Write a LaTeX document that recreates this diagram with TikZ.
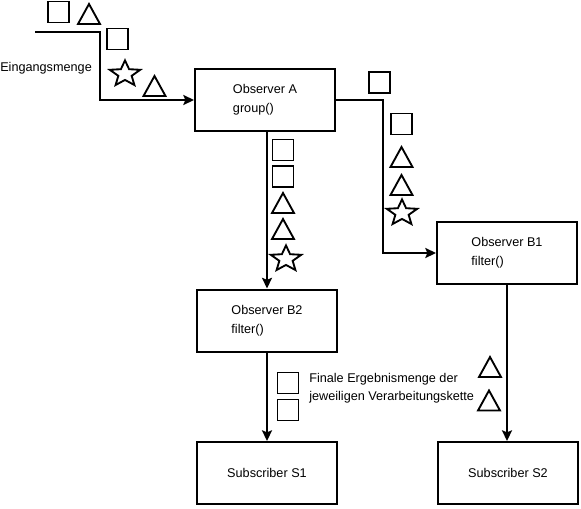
\documentclass[tikz,border=0pt]{standalone}
\usepackage{fontspec}
\setmainfont{Liberation Sans}
\usetikzlibrary{arrows.meta}
\begin{document}
\begin{tikzpicture}[x=0.75pt,y=-0.75pt,
  box/.style={draw,line width=1.5pt,minimum width=105pt,minimum height=46.5pt,align=left,font=\fontsize{9.5}{14}\selectfont,inner sep=0pt},
  conn/.style={line width=1.5pt,-{Stealth[length=8pt,width=7.5pt,inset=1.5pt]}},
  lbl/.style={font=\fontsize{9.5}{13.5}\selectfont,align=left,inner sep=0pt},
  sym/.style={line width=1.4pt},
  sq/.pic={\draw[sym] (-10.5,-10.5) rectangle (10.5,10.5);},
  tri/.pic={\draw[sym,line join=miter] (-11,10) -- (0,-10) -- (11,10) -- cycle;},
  starsym/.pic={\draw[sym,yscale=0.85] (270:16) -- (306:7) -- (342:16) -- (18:7) -- (54:16) -- (90:7) -- (126:16) -- (162:7) -- (198:16) -- (234:7) -- cycle;}
]
\useasboundingbox (0,0) rectangle (581,508);

% boxes
\node[box] (A)  at (265,100)   {Observer A\\group()};
\node[box] (B1) at (507,253)   {Observer B1\\filter()};
\node[box] (B2) at (267,320.5) {Observer B2\\filter()};
\node[box] (S1) at (267,473)   {Subscriber S1};
\node[box] (S2) at (508,473)   {Subscriber S2};

% labels
\node[lbl,anchor=west] (ein) at (0,68) {Eingangsmenge};
\node[lbl,anchor=west] (fin) at (309,388) {Finale Ergebnismenge der\\jeweiligen Verarbeitungskette};

% connectors
\coordinate (in) at (35,32);
\draw[conn] (in) -- (100,32) |- (A.west);
\draw[conn] (A.east) -- (383,100) |- (B1.west);
\draw[conn] (B2.north |- A.south) -- (B2.north);
\draw[conn] (B2.south) -- (S1.north);
\draw[conn] (B1.south) -- (B1.south |- S2.north);

% symbols
\pic at (58.5,12) {sq};
\pic at (89,14) {tri};
\pic at (117.5,39) {sq};
\pic at (125,74) {starsym};
\pic at (154.5,86) {tri};

\pic at (379.5,82.5) {sq};
\pic at (401.5,124) {sq};
\pic at (401.5,157) {tri};
\pic at (401.5,185) {tri};
\pic at (402,213) {starsym};

\pic at (283,150) {sq};
\pic at (283,176.5) {sq};
\pic at (283,203) {tri};
\pic at (283,229) {tri};
\pic at (286,259) {starsym};

\pic at (288,383) {sq};
\pic at (288,410) {sq};

\pic at (490,367) {tri};
\pic at (489,400.5) {tri};
\end{tikzpicture}
\end{document}
